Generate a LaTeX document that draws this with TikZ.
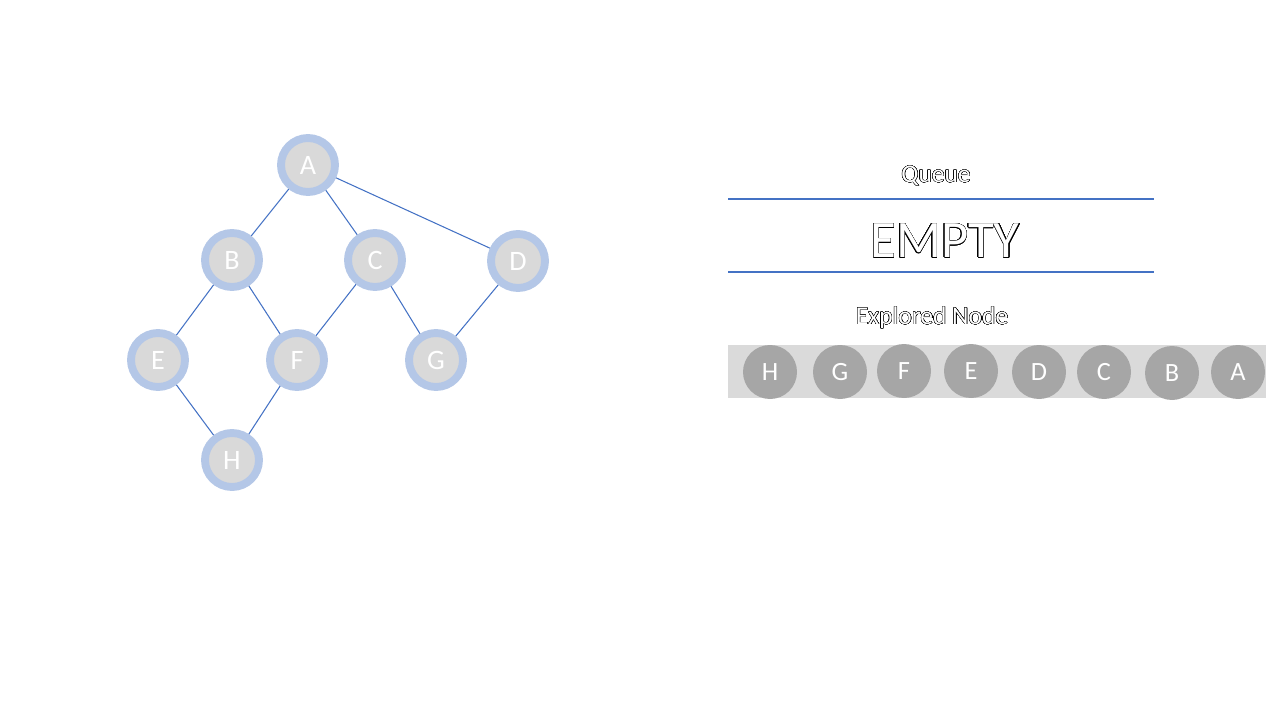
\documentclass[tikz,border=0pt]{standalone}
\usepackage{fontspec}
\setmainfont{Carlito}
\usepackage{contour}
\contourlength{0.22pt}
\contournumber{24}
\usepackage{tikz}
\definecolor{ringblue}{HTML}{B4C7E7}
\definecolor{nodegray}{HTML}{D9D9D9}
\definecolor{linkblue}{HTML}{4472C4}
\definecolor{bandgray}{HTML}{DADADA}
\definecolor{donegray}{HTML}{A6A6A6}
\tikzset{vertex/.style={circle, draw=ringblue, fill=nodegray, line width=4.5pt, minimum size=1.08cm, inner sep=0, text=white, font=\fontsize{16}{16}\selectfont}}
\tikzset{visited/.style={circle, fill=donegray, minimum size=1.08cm, inner sep=0, text=white, font=\fontsize{15}{15}\selectfont}}
\tikzset{every edge/.style={draw=linkblue, line width=0.6pt}}
\tikzset{rule/.style={draw=linkblue, line width=1.2pt}}
\tikzset{outlined/.style={text=white, inner sep=0}}

\begin{document}
\begin{tikzpicture}[x=0.02cm, y=-0.02cm]
  \useasboundingbox (0, 0) rectangle (1280, 720);

  % graph
  \node[vertex] at (308, 165) (A) {A};
  \node[vertex] at (232, 260) (B) {B};
  \node[vertex] at (375, 260) (C) {C};
  \node[vertex] at (518, 261) (D) {D};
  \node[vertex] at (158, 360) (E) {E};
  \node[vertex] at (297, 360) (F) {F};
  \node[vertex] at (436, 360) (G) {G};
  \node[vertex] at (232, 460) (H) {H};
  \draw (A) edge (B) (A) edge (C) (A) edge (D);
  \draw (B) edge (E) (B) edge (F);
  \draw (C) edge (F) (C) edge (G);
  \draw (D) edge (G);
  \draw (E) edge (H) (F) edge (H);

  % queue
  \node[outlined, font=\fontsize{14.5}{14.5}\selectfont] at (936, 176) (queue) {\contour{black}{Queue}};
  \coordinate (q1) at (728, 199);
  \coordinate (q2) at (1154, 199);
  \coordinate (q3) at (728, 272);
  \coordinate (q4) at (1154, 272);
  \draw[rule] (q1) -- (q2);
  \draw[rule] (q3) -- (q4);
  \node[outlined, font=\fontsize{30}{30}\selectfont] at (945, 241) (empty) {\contour{black}{EMPTY}};

  % explored nodes
  \node[outlined, font=\fontsize{14.5}{14.5}\selectfont] at (932, 318) (explored) {\contour{black}{Explored Node}};
  \fill[bandgray] (728, 345) rectangle (1266, 398);
  \node[visited] at (770, 372) (xH) {H};
  \node[visited] at (840, 372) (xG) {G};
  \node[visited] at (904, 371) (xF) {F};
  \node[visited] at (971, 371) (xE) {E};
  \node[visited] at (1039, 372) (xD) {D};
  \node[visited] at (1104, 372) (xC) {C};
  \node[visited] at (1172, 373) (xB) {B};
  \node[visited] at (1238, 372) (xA) {A};
\end{tikzpicture}
\end{document}
